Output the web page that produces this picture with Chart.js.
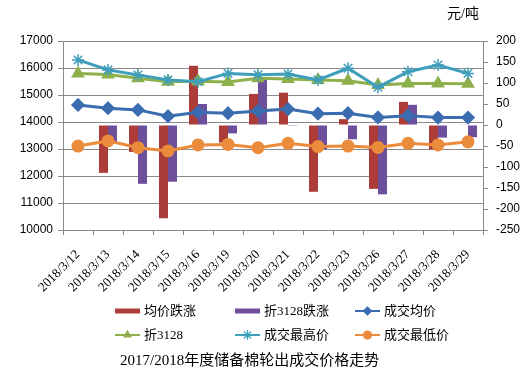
<!DOCTYPE html>
<html>
<head>
<meta charset="utf-8">
<script src="https://cdn.jsdelivr.net/npm/chart.js@4/dist/chart.umd.min.js"></script>
<style>
  body { margin: 0; background: #fff; }
  #wrap { width: 532px; height: 377px; }
</style>
</head>
<body>
<div id="wrap"><canvas id="chart" width="532" height="377"></canvas></div>
<script>
// categories (trading days)
const categories = ['2018/3/12', '2018/3/13', '2018/3/14', '2018/3/15', '2018/3/16', '2018/3/19', '2018/3/20',
    '2018/3/21', '2018/3/22', '2018/3/23', '2018/3/26', '2018/3/27', '2018/3/28', '2018/3/29'];

// bars, right axis
const avgChange = [null, -114, -64, -222, 141, -42, 74, 77, -159, 14, -152, 55, -58, 1];
const zheChange = [null, -42, -140, -135, 50, -20, 109, -2, -58, -34, -165, 48, -30, -29];

// lines, left axis
const avgPrice = [14630, 14510, 14448, 14215, 14358, 14325, 14410, 14480, 14308, 14328, 14170, 14236, 14165, 14165];
const zhePrice = [15800, 15762, 15618, 15490, 15505, 15480, 15620, 15595, 15560, 15530, 15368, 15422, 15425, 15415];
const highPrice = [16300, 15930, 15740, 15560, 15490, 15800, 15750, 15780, 15560, 15990, 15290, 15860, 16110, 15800];
const lowPrice = [13110, 13300, 13050, 12930, 13150, 13170, 13050, 13210, 13090, 13110, 13060, 13210, 13150, 13265];

// axis ranges [min, max, step]
const leftAxis = [10000, 17000, 1000];
const rightAxis = [-250, 200, 50];

const unitText = '元/吨';
const chartTitle = '2017/2018年度储备棉轮出成交价格走势';

const gridColor = '#8a8a8a';
const cjkFont = '"Liberation Serif", "Noto Sans CJK SC", serif';

// legend + title + unit drawn on the canvas
const extraText = {
    id: 'extraText',
    afterDraw(chart) {
        const ctx = chart.ctx;
        const slots = [[115, 311], [235, 311], [355, 311], [115, 335], [235, 335], [355, 335]];
        ctx.save();
        chart.data.datasets.forEach((ds, i) => {
            const [x, y] = slots[i];
            if (ds.type === 'line') {
                ctx.strokeStyle = ds.borderColor;
                ctx.lineWidth = 2;
                ctx.beginPath();
                ctx.moveTo(x, y);
                ctx.lineTo(x + 25, y);
                ctx.stroke();
                ctx.fillStyle = ds.pointBackgroundColor;
                ctx.strokeStyle = ds.pointBorderColor;
                ctx.lineWidth = 1.2;
                Chart.helpers.drawPoint(ctx, {
                    pointStyle: ds.pointStyle,
                    radius: ds.pointRadius - 1,
                    rotation: 0,
                    borderWidth: 1.2
                }, x + 12.5, y);
            } else {
                ctx.fillStyle = ds.backgroundColor;
                ctx.fillRect(x, y - 2.5, 25, 5);
            }
            ctx.fillStyle = '#000';
            ctx.font = '13px ' + cjkFont;
            ctx.textAlign = 'left';
            ctx.textBaseline = 'middle';
            ctx.fillText(ds.label, x + 29, y + 1);
        });

        ctx.font = '15px ' + cjkFont;
        ctx.fillText(chartTitle, 120, 361);

        ctx.font = '14px ' + cjkFont;
        ctx.fillText(unitText, 447, 14);
        ctx.restore();
    }
};

const canvas = document.getElementById('chart');

new Chart(canvas, {
    type: 'bar',
    data: {
        labels: categories,
        datasets: [
            {
                type: 'bar',
                label: '均价跌涨',
                data: avgChange,
                yAxisID: 'y1',
                backgroundColor: '#ab3c38',
                categoryPercentage: 0.6,
                barPercentage: 1.0,
                order: 10
            },
            {
                type: 'bar',
                label: '折3128跌涨',
                data: zheChange,
                yAxisID: 'y1',
                backgroundColor: '#6e4f9c',
                categoryPercentage: 0.6,
                barPercentage: 1.0,
                order: 10
            },
            {
                type: 'line',
                label: '成交均价',
                data: avgPrice,
                yAxisID: 'y',
                borderColor: '#3b6cb0',
                borderWidth: 3,
                pointStyle: 'rectRot',
                pointRadius: 5,
                pointBackgroundColor: '#3b6cb0',
                pointBorderColor: '#3b6cb0',
                tension: 0,
                order: 1
            },
            {
                type: 'line',
                label: '折3128',
                data: zhePrice,
                yAxisID: 'y',
                borderColor: '#8eb04a',
                borderWidth: 3,
                pointStyle: 'triangle',
                pointRadius: 5,
                pointBackgroundColor: '#8eb04a',
                pointBorderColor: '#8eb04a',
                tension: 0,
                order: 2
            },
            {
                type: 'line',
                label: '成交最高价',
                data: highPrice,
                yAxisID: 'y',
                borderColor: '#3e9ebb',
                borderWidth: 3,
                pointStyle: 'star',
                pointRadius: 6,
                pointBorderWidth: 1.5,
                pointBackgroundColor: '#3e9ebb',
                pointBorderColor: '#3e9ebb',
                tension: 0,
                order: 1
            },
            {
                type: 'line',
                label: '成交最低价',
                data: lowPrice,
                yAxisID: 'y',
                borderColor: '#eb8c3c',
                borderWidth: 3,
                pointStyle: 'circle',
                pointRadius: 5,
                pointBackgroundColor: '#eb8c3c',
                pointBorderColor: '#eb8c3c',
                tension: 0,
                order: 1
            }
        ]
    },
    options: {
        responsive: false,
        animation: false,
        devicePixelRatio: 1,
        layout: {
            padding: { top: 41, left: 0, right: 0, bottom: 82 }
        },
        plugins: {
            legend: { display: false },
            title: { display: false },
            tooltip: { enabled: false }
        },
        scales: {
            x: {
                offset: true,
                grid: {
                    display: true,
                    drawOnChartArea: false,
                    drawTicks: true,
                    tickLength: 5,
                    offset: true,
                    color: gridColor
                },
                border: { display: true, color: gridColor },
                ticks: {
                    autoSkip: false,
                    maxRotation: 45,
                    minRotation: 45,
                    padding: 12,
                    color: '#000',
                    font: { family: 'Liberation Serif', size: 13 }
                },
                afterFit: function(scale) { scale.height = 65; }
            },
            y: {
                position: 'left',
                min: leftAxis[0],
                max: leftAxis[1],
                ticks: {
                    stepSize: leftAxis[2],
                    padding: 5,
                    color: '#000',
                    font: { family: 'Liberation Sans', size: 12 },
                    callback: function(v) { return String(v); }
                },
                grid: { color: gridColor, tickLength: 5 },
                border: { color: gridColor },
                afterFit: function(scale) { scale.width = 63; }
            },
            y1: {
                position: 'right',
                min: rightAxis[0],
                max: rightAxis[1],
                ticks: {
                    stepSize: rightAxis[2],
                    padding: 8,
                    color: '#000',
                    font: { family: 'Liberation Sans', size: 12 },
                    callback: function(v) { return String(v); }
                },
                grid: { drawOnChartArea: false, color: gridColor, tickLength: 5 },
                border: { color: gridColor },
                afterFit: function(scale) { scale.width = 49; }
            }
        }
    },
    plugins: [extraText]
});
</script>
</body>
</html>
